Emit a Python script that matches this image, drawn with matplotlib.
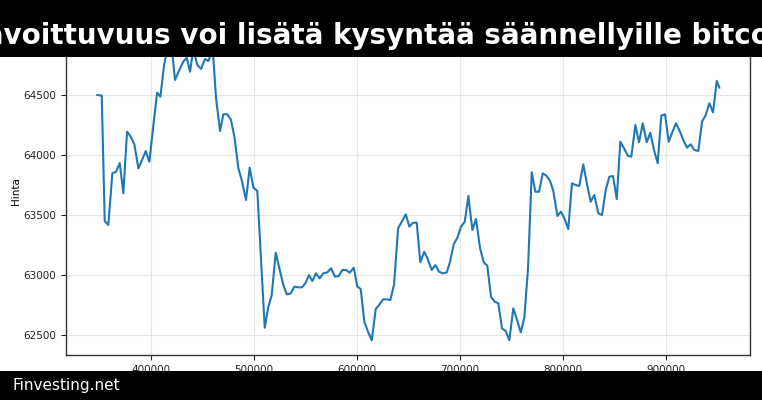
import matplotlib
matplotlib.use("Agg")
import matplotlib.pyplot as plt
from matplotlib.patches import Rectangle

title_text = "Louhinnan tavoittuvuus voi lisätä kysyntää säännellyille bitcoin-ETF:ille"
footer_text = "Finvesting.net"
y_label = "Hinta"

x_vals = [347800, 352100, 355000, 358500, 362400, 366000, 369600, 373100, 376700, 380300,
          383800, 387700, 391300, 394800, 398400, 402300, 405900, 409100, 412700, 415900,
          419500, 423300, 427500, 431400, 434700, 437900, 441100, 445000, 448600, 452500,
          455700, 460000, 463200, 467100, 470300, 474200, 477700, 481000, 484900, 488100,
          492300, 495900, 499500, 503300, 510500, 514000, 517300, 521200, 524700, 528600,
          531900, 535800, 539300, 543200, 546700, 550300, 553500, 556800, 560300, 563900,
          567400, 571300, 574900, 578800, 582400, 585900, 589500, 593100, 597000, 600500,
          603800, 607300, 610900, 614500, 618400, 621600, 625500, 629100, 632600, 636200,
          640100, 643700, 647600, 651100, 654600, 658200, 661700, 665500, 668900, 672800,
          676300, 679900, 683500, 687400, 690600, 694200, 697700, 701300, 704900, 708400,
          712300, 715800, 719700, 723300, 726800, 730400, 734000, 737500, 741100, 744700,
          748200, 752100, 755700, 759300, 762800, 766400, 770000, 773500, 777100, 780700,
          784200, 787800, 791000, 794900, 798400, 802000, 805500, 809100, 812700, 816200,
          820100, 823700, 827300, 830800, 834700, 838300, 841900, 845400, 849000, 852600,
          856100, 859700, 863300, 866800, 870700, 874300, 877900, 881700, 885200, 888800,
          892400, 895900, 899500, 903100, 906600, 910200, 913800, 917300, 920900, 924500,
          928000, 931900, 935500, 939100, 942600, 946200, 949800, 952300]

prices = [64500, 64494, 63450, 63417, 63847, 63861, 63933, 63681, 64194, 64153,
          64089, 63889, 63958, 64033, 63944, 64250, 64519, 64486, 64750, 64880,
          64950, 64625, 64708, 64778, 64811, 64694, 64880, 64750, 64717, 64800,
          64783, 64880, 64472, 64200, 64339, 64339, 64292, 64153, 63889, 63792,
          63625, 63894, 63728, 63700, 62561, 62736, 62833, 63186, 63056, 62917,
          62839, 62847, 62903, 62897, 62897, 62936, 63000, 62950, 63014, 62972,
          63014, 63022, 63056, 62986, 62992, 63042, 63042, 63019, 63061, 62903,
          62883, 62611, 62528, 62456, 62717, 62750, 62797, 62797, 62792, 62922,
          63389, 63444, 63506, 63403, 63436, 63436, 63106, 63194, 63133, 63042,
          63083, 63028, 63014, 63022, 63111, 63256, 63311, 63403, 63444, 63658,
          63375, 63467, 63228, 63106, 63078, 62819, 62778, 62764, 62556, 62533,
          62458, 62722, 62625, 62522, 62644, 63056, 63856, 63694, 63694, 63847,
          63828, 63783, 63700, 63492, 63528, 63467, 63383, 63764, 63750, 63742,
          63922, 63756, 63611, 63667, 63514, 63500, 63708, 63819, 63825, 63633,
          64111, 64056, 63994, 63986, 64250, 64106, 64264, 64106, 64186, 64042,
          63931, 64328, 64339, 64111, 64189, 64264, 64200, 64125, 64061, 64089,
          64042, 64033, 64278, 64333, 64431, 64356, 64617, 64561]

fig = plt.figure(figsize=(7.62, 4.0), dpi=100)
ax = fig.add_axes([0.0869, 0.1118, 0.8979, 0.8232])

ax.plot(x_vals, prices, color="#1f77b4", linewidth=1.5)
ax.set_ylabel(y_label, fontsize=7.5, labelpad=2)
ax.tick_params(labelsize=7.5, length=3.5, width=0.8, colors="#222222")
ax.grid(True, color="#e6e6e6", linewidth=0.8)
ax.set_axisbelow(True)
for s in ax.spines.values():
    s.set_color("#333333")
    s.set_linewidth(1.0)

# top banner
fig.add_artist(Rectangle((0, 1 - 57 / 400), 1, 57 / 400, transform=fig.transFigure,
                         facecolor="black", edgecolor="none", zorder=10))
fig.text(0.5 - 20 / 762, 1 - 36 / 400, title_text, color="white", fontsize=20,
         fontweight="bold", ha="center", va="center", zorder=11)

# bottom banner
fig.add_artist(Rectangle((0, 0), 1, 29 / 400, transform=fig.transFigure,
                         facecolor="black", edgecolor="none", zorder=10))
fig.text(12 / 762, 14.5 / 400, footer_text, color="white", fontsize=11,
         ha="left", va="center", zorder=11)

fig.savefig("out.png", dpi=100)
